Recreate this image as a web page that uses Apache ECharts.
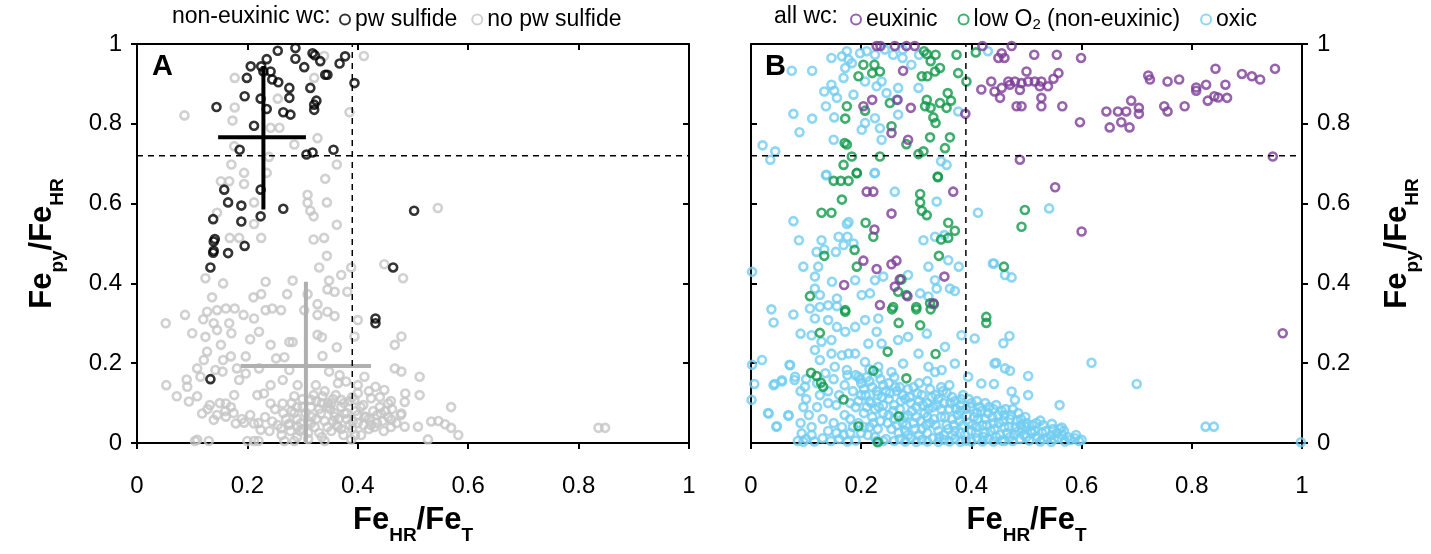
<!DOCTYPE html>
<html>
<head>
<meta charset="utf-8">
<script src="https://cdn.jsdelivr.net/npm/echarts@6/dist/echarts.min.js"></script>
<style>
  html, body { margin: 0; padding: 0; background: #fff; }
  #chart { width: 1431px; height: 554px; }
</style>
</head>
<body>
<div id="chart"></div>
<script>
// panel A: non-euxinic water column, split by porewater sulfide
const pwSulfide = [
  [0.255,0.983],[0.287,0.99],[0.287,0.963],[0.318,0.977],[0.322,0.972],[0.303,0.942],[0.332,0.957],
  [0.367,0.951],[0.377,0.969],[0.394,0.902],[0.235,0.962],[0.206,0.944],[0.225,0.944],[0.229,0.931],
  [0.242,0.931],[0.199,0.915],[0.245,0.911],[0.256,0.904],[0.276,0.890],[0.314,0.890],[0.341,0.923],
  [0.345,0.923],[0.276,0.865],[0.195,0.869],[0.224,0.863],[0.325,0.858],[0.321,0.848],[0.321,0.835],
  [0.235,0.837],[0.144,0.842],[0.265,0.829],[0.278,0.823],[0.212,0.795],[0.186,0.735],[0.307,0.723],
  [0.318,0.728],[0.356,0.735],[0.158,0.635],[0.224,0.635],[0.165,0.603],[0.189,0.595],[0.265,0.587],
  [0.138,0.561],[0.189,0.555],[0.224,0.568],[0.502,0.582],[0.141,0.511],[0.139,0.505],[0.138,0.477],
  [0.139,0.482],[0.165,0.476],[0.195,0.494],[0.133,0.440],[0.464,0.440],[0.432,0.312],[0.432,0.300],
  [0.133,0.160]
];
const noPwSulfide = [
  [0.411,0.97],[0.339,0.97],[0.177,0.915],[0.321,0.915],[0.255,0.863],[0.177,0.841],[0.086,0.821],
  [0.173,0.808],[0.385,0.829],[0.242,0.790],[0.258,0.790],[0.327,0.764],[0.285,0.748],[0.176,0.744],
  [0.239,0.717],[0.171,0.698],[0.362,0.698],[0.194,0.677],[0.235,0.677],[0.152,0.656],[0.167,0.656],
  [0.194,0.649],[0.341,0.662],[0.309,0.622],[0.309,0.602],[0.344,0.603],[0.212,0.603],[0.314,0.582],
  [0.320,0.568],[0.145,0.577],[0.212,0.549],[0.362,0.547],[0.545,0.589],[0.168,0.514],[0.185,0.514],
  [0.225,0.514],[0.320,0.510],[0.339,0.514],
  [0.344,0.469],[0.330,0.440],[0.388,0.440],[0.448,0.448],[0.482,0.413],[0.124,0.413],[0.156,0.400],
  [0.233,0.404],[0.282,0.407],[0.348,0.407],[0.370,0.421],[0.345,0.385],[0.358,0.379],[0.381,0.379],
  [0.272,0.373],[0.309,0.373],[0.211,0.365],[0.225,0.373],[0.136,0.365],[0.327,0.348],[0.145,0.333],
  [0.161,0.337],[0.177,0.337],[0.127,0.329],[0.193,0.321],[0.233,0.333],[0.245,0.337],[0.261,0.333],
  [0.303,0.333],[0.327,0.321],[0.345,0.329],[0.358,0.318],[0.087,0.321],[0.052,0.300],[0.212,0.312],
  [0.120,0.310],[0.139,0.300],[0.167,0.300],[0.400,0.308],[0.145,0.283],[0.100,0.275],[0.124,0.266],
  [0.171,0.275],[0.205,0.260],[0.221,0.279],[0.327,0.271],[0.335,0.265],[0.394,0.267],[0.479,0.267],
  [0.467,0.246],[0.242,0.246],[0.276,0.253],[0.282,0.253],[0.152,0.246],[0.362,0.240],[0.127,0.229],
  [0.197,0.217],[0.170,0.217],[0.252,0.212],[0.267,0.215],[0.336,0.218],[0.121,0.208],[0.156,0.208],
  [0.221,0.187],[0.109,0.187],[0.142,0.183],[0.155,0.179],[0.181,0.187],[0.197,0.174],[0.276,0.183],
  [0.348,0.179],[0.367,0.170],[0.467,0.187],[0.479,0.179],[0.512,0.166],[0.053,0.145],[0.090,0.159],
  [0.091,0.141],[0.115,0.166],[0.185,0.158],[0.242,0.145],[0.264,0.158],[0.291,0.145],[0.324,0.145],
  [0.364,0.150],[0.379,0.154],[0.400,0.145],[0.412,0.166],[0.432,0.141],[0.448,0.133],[0.486,0.124],
  [0.512,0.120],[0.072,0.117],[0.094,0.104],[0.109,0.117],[0.132,0.095],[0.161,0.099],[0.176,0.120],
  [0.218,0.120],[0.230,0.124],[0.242,0.099],[0.264,0.099],[0.285,0.117],[0.315,0.108],[0.336,0.117],
  [0.352,0.099],[0.370,0.108],[0.394,0.108],[0.424,0.112],[0.455,0.099],[0.485,0.103],[0.118,0.074],
  [0.139,0.058],[0.161,0.066],[0.179,0.049],[0.194,0.051],[0.212,0.049],[0.224,0.033],[0.245,0.054],
  [0.261,0.037],[0.276,0.049],[0.291,0.041],[0.315,0.049],[0.333,0.074],[0.345,0.091],[0.358,0.066],
  [0.364,0.041],[0.376,0.074],[0.391,0.054],[0.412,0.066],[0.424,0.045],[0.442,0.074],[0.461,0.058],
  [0.479,0.074],[0.485,0.041],[0.509,0.041],[0.533,0.054],[0.109,0.008],[0.130,0.005],[0.212,0.005],
  [0.267,0.005],[0.285,0.005],[0.388,0.009],[0.527,0.009],[0.836,0.038],[0.848,0.038],[0.582,0.02],
  [0.569,0.09],[0.546,0.055],[0.558,0.047],[0.569,0.038],
  [0.262,0.02],[0.27,0.06],[0.278,0.03],[0.285,0.075],[0.29,0.015],[0.297,0.05],[0.30,0.09],[0.31,0.025],
  [0.316,0.065],[0.322,0.04],[0.33,0.085],[0.335,0.015],[0.34,0.055],[0.346,0.1],[0.352,0.03],[0.358,0.075],
  [0.362,0.045],[0.37,0.09],[0.374,0.02],[0.38,0.06],[0.385,0.105],[0.39,0.035],[0.396,0.08],[0.40,0.05],
  [0.406,0.02],[0.41,0.095],[0.415,0.065],[0.42,0.035],[0.428,0.08],[0.435,0.05],[0.44,0.09],[0.447,0.03],
  [0.455,0.065],[0.462,0.085],[0.47,0.05],[0.478,0.07],[0.25,0.085],[0.255,0.045],[0.24,0.03],[0.232,0.065],
  [0.22,0.05],[0.205,0.07],[0.19,0.06],[0.175,0.075],[0.16,0.08],[0.145,0.07],[0.128,0.085],[0.15,0.1],
  [0.17,0.09],[0.34,0.13],[0.36,0.12],[0.32,0.12],[0.3,0.11],[0.28,0.1],[0.4,0.125],[0.42,0.13],
  [0.44,0.115],[0.46,0.105],[0.105,0.005],[0.20,0.005],[0.22,0.005],[0.31,0.01],[0.34,0.005],
  [0.265,0.075],[0.275,0.045],[0.29,0.06],[0.3,0.035],[0.305,0.075],[0.325,0.06],[0.33,0.025],[0.345,0.04],
  [0.35,0.085],[0.355,0.055],[0.365,0.06],[0.37,0.035],[0.38,0.075],[0.385,0.045],[0.395,0.02],[0.4,0.07],
  [0.405,0.09],[0.41,0.045],[0.42,0.06],[0.43,0.04],[0.435,0.07],[0.445,0.055],[0.45,0.08],[0.46,0.04],
  [0.325,0.105],[0.355,0.11],[0.375,0.1],[0.39,0.115],[0.315,0.09],[0.335,0.1],[0.29,0.09],[0.28,0.08],
  [0.295,0.03],[0.31,0.055]
];
// mean +/- sd crosses of panel A: [xMean, yMean, xLow, xHigh, yLow, yHigh]
const crossPw = [0.229, 0.766, 0.147, 0.306, 0.585, 0.945];
const crossNoPw = [0.306, 0.193, 0.188, 0.424, 0, 0.404];

// panel B: all water columns
const euxinic = [
  [0.228,0.995],[0.235,0.995],[0.261,0.995],[0.282,0.995],[0.297,0.995],[0.420,0.995],[0.473,0.995],
  [0.276,0.933],[0.220,0.860],[0.204,0.844],[0.266,0.860],[0.290,0.840],[0.389,0.825],[0.255,0.777],
  [0.285,0.760],[0.418,0.886],[0.436,0.906],[0.442,0.881],
  [0.455,0.977],[0.460,0.965],[0.449,0.965],[0.514,0.973],[0.555,0.973],[0.599,0.965],[0.500,0.931],
  [0.558,0.927],[0.467,0.906],[0.479,0.906],[0.491,0.902],[0.503,0.906],[0.515,0.906],[0.527,0.906],
  [0.539,0.894],[0.549,0.913],[0.455,0.890],[0.452,0.865],[0.470,0.898],[0.488,0.885],[0.524,0.894],
  [0.482,0.844],[0.491,0.844],[0.527,0.865],[0.527,0.844],[0.565,0.844],[0.597,0.804],
  [0.645,0.831],[0.666,0.831],[0.681,0.831],[0.690,0.858],[0.704,0.840],[0.704,0.825],
  [0.651,0.791],[0.672,0.804],[0.687,0.791],[0.721,0.921],[0.724,0.911],[0.756,0.906],[0.777,0.911],
  [0.750,0.844],[0.756,0.831],[0.787,0.844],[0.808,0.891],[0.808,0.883],[0.826,0.898],[0.843,0.938],
  [0.861,0.898],[0.829,0.858],[0.841,0.869],[0.848,0.866],[0.864,0.865],[0.891,0.925],[0.909,0.919],
  [0.924,0.911],[0.951,0.938],[0.947,0.718],[0.488,0.710],[0.552,0.641],[0.600,0.530],[0.965,0.275],
  [0.210,0.630],[0.222,0.630],[0.367,0.630],[0.255,0.575],[0.224,0.535],[0.204,0.457],[0.228,0.436],
  [0.255,0.448],[0.264,0.457],[0.169,0.396],[0.270,0.410],[0.261,0.392],[0.284,0.368],[0.351,0.417],
  [0.234,0.346],[0.331,0.350]
];
const lowO2 = [
  [0.314,0.982],[0.319,0.975],[0.335,0.973],[0.326,0.957],[0.373,0.973],[0.408,0.979],[0.204,0.948],
  [0.224,0.948],[0.195,0.919],[0.220,0.927],[0.234,0.931],[0.310,0.919],[0.320,0.919],[0.334,0.931],
  [0.343,0.940],[0.376,0.927],[0.391,0.906],[0.174,0.844],[0.171,0.813],[0.207,0.833],[0.252,0.852],
  [0.319,0.860],[0.316,0.844],[0.326,0.840],[0.343,0.852],[0.357,0.877],[0.363,0.858],[0.355,0.840],
  [0.331,0.816],[0.335,0.802],[0.255,0.794],[0.174,0.748],[0.170,0.752],[0.325,0.766],[0.361,0.766],
  [0.282,0.749],[0.352,0.739],[0.304,0.724],[0.313,0.731],[0.183,0.718],[0.234,0.718],[0.168,0.697],
  [0.192,0.677],[0.339,0.668],
  [0.150,0.657],[0.163,0.657],[0.177,0.657],[0.192,0.676],[0.339,0.666],[0.307,0.624],[0.307,0.603],
  [0.310,0.582],[0.319,0.571],[0.165,0.610],[0.128,0.577],[0.146,0.577],[0.208,0.552],[0.222,0.517],
  [0.358,0.552],[0.370,0.532],[0.358,0.514],[0.345,0.510],[0.188,0.484],[0.133,0.469],[0.341,0.469],
  [0.192,0.442],[0.107,0.368],[0.273,0.410],[0.267,0.379],[0.282,0.371],[0.325,0.350],[0.171,0.333],
  [0.258,0.341],[0.300,0.341],[0.497,0.584],[0.491,0.542],[0.459,0.442],
  [0.171,0.329],[0.256,0.335],[0.300,0.335],[0.326,0.335],[0.332,0.348],[0.268,0.301],[0.307,0.295],
  [0.427,0.316],[0.427,0.301],[0.125,0.276],[0.248,0.229],[0.335,0.223],[0.109,0.176],[0.119,0.168],
  [0.127,0.151],[0.131,0.141],[0.222,0.181],[0.282,0.162],[0.168,0.109],[0.268,0.067],[0.195,0.042],
  [0.230,0.002]
];
const oxic = [
  [0.074,0.933],[0.111,0.933],[0.146,0.965],[0.165,0.969],[0.174,0.982],[0.183,0.952],[0.171,0.940],
  [0.177,0.961],[0.198,0.977],[0.210,0.982],[0.225,0.973],[0.243,0.986],[0.258,0.973],[0.275,0.986],
  [0.275,0.965],[0.291,0.948],[0.305,0.973],[0.168,0.915],[0.146,0.898],[0.133,0.881],[0.151,0.883],
  [0.156,0.865],[0.136,0.844],[0.077,0.825],[0.111,0.813],[0.088,0.779],[0.021,0.746],[0.044,0.731],
  [0.035,0.710],[0.151,0.816],[0.186,0.873],[0.207,0.906],[0.228,0.894],[0.237,0.906],[0.246,0.877],
  [0.267,0.890],[0.264,0.860],[0.304,0.890],[0.225,0.814],[0.234,0.789],[0.207,0.802],[0.201,0.785],
  [0.150,0.760],[0.237,0.760],[0.267,0.823],[0.345,0.706],[0.355,0.697],[0.376,0.831],[0.137,0.672],
  [0.225,0.677],[0.430,0.982],
  [0.136,0.671],[0.224,0.676],[0.261,0.630],[0.337,0.605],[0.412,0.577],[0.077,0.556],[0.177,0.554],
  [0.174,0.549],[0.087,0.508],[0.128,0.508],[0.159,0.517],[0.175,0.517],[0.133,0.485],[0.154,0.479],
  [0.168,0.496],[0.186,0.500],[0.119,0.479],[0.313,0.508],[0.334,0.517],[0.351,0.521],[0.002,0.429],
  [0.439,0.450],[0.095,0.442],[0.122,0.442],[0.322,0.442],[0.358,0.458],[0.377,0.442],[0.116,0.417],
  [0.147,0.404],[0.189,0.408],[0.225,0.408],[0.240,0.417],[0.285,0.421],[0.334,0.408],[0.361,0.387],
  [0.370,0.381],[0.337,0.387],[0.116,0.387],[0.125,0.371],[0.156,0.362],[0.201,0.371],[0.216,0.375],
  [0.307,0.375],[0.322,0.367],[0.037,0.335],[0.041,0.302],[0.077,0.322],[0.090,0.274],[0.002,0.196],
  [0.020,0.208],[0.006,0.148],[0.001,0.108],[0.031,0.075],[0.046,0.041],[0.068,0.068],[0.070,0.196],
  [0.043,0.148],[0.056,0.154],[0.079,0.158],[0.092,0.024],[0.095,0.003],
  [0.541,0.588],[0.441,0.450],[0.461,0.421],[0.473,0.415],[0.469,0.268],[0.458,0.250],[0.445,0.201],
  [0.461,0.187],[0.470,0.181],[0.503,0.168],[0.618,0.201],[0.700,0.148],[0.441,0.148],[0.473,0.129],
  [0.479,0.108],[0.503,0.120],[0.560,0.095],[0.525,0.056],[0.546,0.048],[0.564,0.039],[0.825,0.041],
  [0.840,0.041],[0.998,0.002],[0.500,0.041],
  [0.107,0.337],[0.125,0.341],[0.140,0.345],[0.156,0.343],[0.116,0.312],[0.140,0.308],[0.156,0.291],
  [0.110,0.270],[0.128,0.254],[0.146,0.258],[0.171,0.279],[0.189,0.291],[0.207,0.308],[0.231,0.312],
  [0.228,0.279],[0.213,0.249],[0.237,0.249],[0.267,0.258],[0.285,0.266],[0.319,0.274],[0.352,0.241],
  [0.382,0.270],[0.406,0.262],[0.071,0.195],[0.056,0.157],[0.041,0.145],[0.080,0.166],[0.098,0.141],
  [0.116,0.233],[0.125,0.208],[0.146,0.224],[0.165,0.220],[0.177,0.224],[0.189,0.224],[0.152,0.191],
  [0.174,0.183],[0.195,0.166],[0.207,0.203],[0.231,0.191],[0.255,0.178],[0.276,0.199],[0.304,0.224],
  [0.322,0.191],[0.334,0.178],[0.346,0.183],[0.370,0.199],[0.394,0.166],[0.418,0.149],[0.442,0.199],
  [0.032,0.074],[0.068,0.070],[0.047,0.042],
  [0.19,0.17],[0.2,0.15],[0.21,0.165],[0.22,0.14],[0.235,0.16],[0.245,0.13],[0.2,0.12],[0.215,0.105],
  [0.23,0.12],[0.19,0.09],[0.205,0.075],[0.225,0.085],[0.24,0.095],[0.25,0.07],[0.195,0.05],[0.215,0.04],
  [0.235,0.055],[0.255,0.035],[0.2,0.025],[0.225,0.015],[0.245,0.01],
  [0.265,0.13],[0.28,0.11],[0.295,0.14],[0.31,0.12],[0.325,0.135],[0.34,0.11],[0.355,0.125],[0.37,0.105],
  [0.385,0.12],[0.4,0.1],[0.27,0.085],[0.285,0.07],[0.3,0.09],[0.315,0.075],[0.33,0.09],[0.345,0.065],
  [0.36,0.085],[0.375,0.07],[0.39,0.085],[0.405,0.065],[0.265,0.045],[0.28,0.03],[0.295,0.05],[0.31,0.035],
  [0.325,0.05],[0.34,0.03],[0.355,0.045],[0.37,0.03],[0.385,0.045],[0.4,0.03],[0.27,0.01],[0.29,0.012],
  [0.31,0.008],[0.33,0.012],[0.35,0.008],[0.37,0.01],[0.39,0.006],[0.41,0.012],
  [0.415,0.09],[0.43,0.075],[0.445,0.095],[0.46,0.07],[0.475,0.085],[0.49,0.06],[0.42,0.045],[0.435,0.03],
  [0.45,0.05],[0.465,0.025],[0.48,0.04],[0.495,0.02],[0.51,0.045],[0.52,0.015],[0.535,0.03],[0.55,0.01],
  [0.565,0.02],[0.58,0.008],[0.595,0.005],[0.43,0.01],[0.455,0.006],[0.475,0.005],[0.505,0.006],
  [0.525,0.004],[0.545,0.003],[0.57,0.004],
  [0.085,0.005],[0.1,0.01],[0.115,0.004],[0.13,0.012],[0.145,0.005],[0.16,0.01],[0.175,0.004],[0.19,0.006],
  [0.11,0.04],[0.13,0.06],[0.15,0.05],[0.17,0.07],[0.12,0.09],[0.14,0.1],[0.16,0.12],[0.18,0.1],
  [0.1,0.11],[0.09,0.13],[0.12,0.15],[0.15,0.16],[0.17,0.145],
  [0.205,0.135],[0.215,0.155],[0.228,0.13],[0.24,0.145],[0.25,0.11],[0.26,0.095],[0.275,0.12],[0.29,0.1],
  [0.305,0.105],[0.32,0.1],[0.335,0.12],[0.35,0.1],[0.365,0.115],[0.38,0.095],[0.395,0.11],[0.41,0.105],
  [0.425,0.1],[0.44,0.085],[0.455,0.08],[0.47,0.06],[0.485,0.075],[0.5,0.05],[0.515,0.03],[0.53,0.045],
  [0.545,0.02],[0.56,0.035],[0.575,0.015],[0.59,0.02],[0.6,0.008],
  [0.195,0.105],[0.21,0.09],[0.22,0.065],[0.23,0.035],[0.24,0.075],[0.26,0.06],[0.275,0.05],[0.285,0.02],
  [0.3,0.065],[0.305,0.02],[0.32,0.065],[0.32,0.025],[0.335,0.045],[0.345,0.085],[0.35,0.02],[0.365,0.06],
  [0.365,0.02],[0.38,0.025],[0.38,0.08],[0.395,0.05],[0.41,0.04],[0.41,0.075],[0.425,0.06],[0.425,0.025],
  [0.44,0.05],[0.445,0.015],[0.46,0.04],[0.47,0.015],[0.485,0.03],[0.49,0.045],[0.5,0.015],[0.51,0.025],
  [0.53,0.01],[0.555,0.025],[0.27,0.14],[0.285,0.135],[0.305,0.15],[0.32,0.155],[0.345,0.14],[0.36,0.145],
  [0.25,0.15],[0.26,0.165],[0.23,0.175],[0.215,0.185],[0.24,0.005],[0.26,0.005],[0.28,0.004],[0.3,0.003],
  [0.32,0.004],[0.34,0.003],[0.36,0.004],[0.38,0.003],[0.4,0.004],[0.42,0.004],[0.44,0.004],[0.46,0.005],
  [0.105,0.07],[0.125,0.12],[0.14,0.13],[0.155,0.095],[0.165,0.04],[0.18,0.06],[0.185,0.13],[0.175,0.17],
  [0.135,0.175],[0.1,0.16],[0.095,0.09],[0.09,0.05],[0.11,0.02],[0.14,0.03],[0.155,0.025],[0.18,0.025],
  [0.198,0.16],[0.208,0.12],[0.218,0.1],[0.222,0.05],[0.232,0.09],[0.238,0.115],[0.248,0.05],[0.252,0.125],
  [0.258,0.08],[0.262,0.14],[0.268,0.025],[0.272,0.105],[0.278,0.065],[0.282,0.045],[0.288,0.115],[0.292,0.08],
  [0.298,0.035],[0.302,0.125],[0.308,0.055],[0.312,0.095],[0.318,0.045],[0.322,0.085],[0.328,0.115],[0.332,0.06],
  [0.338,0.095],[0.342,0.015],[0.348,0.13],[0.352,0.065],[0.358,0.035],[0.362,0.1],[0.368,0.045],[0.372,0.085],
  [0.378,0.055],[0.382,0.11],[0.388,0.02],[0.392,0.07],[0.398,0.09],[0.402,0.045],[0.408,0.025],[0.412,0.06],
  [0.418,0.08],[0.422,0.015],[0.428,0.045],[0.432,0.09],[0.438,0.065],[0.442,0.035],[0.448,0.07],[0.452,0.02],
  [0.458,0.055],[0.462,0.085],[0.468,0.04],[0.472,0.07],[0.478,0.02],[0.482,0.055],[0.488,0.01],[0.492,0.035],
  [0.498,0.065],[0.508,0.03],[0.518,0.05],[0.528,0.025],[0.538,0.012],[0.548,0.035],[0.558,0.012],[0.568,0.03],
  [0.588,0.012],[0.212,0.02],[0.228,0.005],[0.205,0.04],[0.185,0.04],[0.168,0.02]
];

// dashed thresholds: FeHR/FeT and Fepy/FeHR
const feHrThreshold = 0.39;
const fePyThreshold = 0.72;
const xTicks = [0, 0.2, 0.4, 0.6, 0.8, 1];

const FONT = '"Liberation Sans", Helvetica, Arial, sans-serif';
const C = { black: '#000000', grey: '#c6c6c6', purple: '#7d3c98', green: '#0f9a4a', cyan: '#72cdf1' };

const chart = echarts.init(document.getElementById('chart'));

const nameRich = {
  b: { fontFamily: FONT, fontSize: 31, fontWeight: 'bold', color: '#000', padding: [0, 0, 9, 0], verticalAlign: 'bottom' },
  s: { fontFamily: FONT, fontSize: 19, fontWeight: 'bold', color: '#000', verticalAlign: 'bottom' }
};

const xAxisFor = (grid, bottom) => ({
  gridIndex: grid, type: 'value', min: 0, max: 1, interval: 0.2,
  position: bottom ? 'bottom' : 'top',
  axisLine: { onZero: false, lineStyle: { color: '#000', width: 2 } },
  axisTick: { inside: !bottom, length: 6, lineStyle: { width: 2 } },
  axisLabel: {
    show: bottom, margin: 31, fontFamily: FONT, fontSize: 24, color: '#000',
    formatter: (v) => xTicks.indexOf(v) >= 0 ? String(v) : ''
  },
  splitLine: { show: false },
  name: bottom ? '{b|Fe}{s|HR}{b|/Fe}{s|T}' : '',
  nameLocation: 'middle', nameGap: 62,
  nameTextStyle: { rich: nameRich }
});

const yAxisFor = (grid, left, labels) => ({
  gridIndex: grid, type: 'value', min: 0, max: 1, interval: 0.2,
  position: left ? 'left' : 'right',
  axisLine: { onZero: false, lineStyle: { color: '#000', width: 2 } },
  axisTick: { inside: !labels, length: 6, lineStyle: { width: 2 } },
  axisLabel: { show: labels, margin: 15, fontFamily: FONT, fontSize: 24, color: '#000' },
  splitLine: { show: false },
  name: labels ? '{b|Fe}{s|py}{b|/Fe}{s|HR}' : '',
  nameLocation: 'middle', nameGap: left ? 70 : 80, nameRotate: 90,
  nameTextStyle: { rich: nameRich }
});

const scatter = (name, data, color, xi) => ({
  name, type: 'scatter', xAxisIndex: xi, yAxisIndex: xi, data,
  symbol: 'circle', symbolSize: 8, clip: false,
  itemStyle: { color: 'rgba(0,0,0,0)', borderColor: color, borderWidth: 2.6 },
  emphasis: { disabled: true }
});

const segment = (pts, color, width, dashed, xi) => ({
  type: 'line', xAxisIndex: xi, yAxisIndex: xi, data: pts, symbol: 'none',
  lineStyle: { color, width, type: dashed ? [6, 5] : 'solid' },
  silent: true, z: 3, emphasis: { disabled: true }
});

const crossSegments = (c, color, xi) => [
  segment([[c[2], c[1]], [c[3], c[1]]], color, 4, false, xi),
  segment([[c[0], c[4]], [c[0], c[5]]], color, 4, false, xi)
];

const legendItem = (name, color) => ({
  name, icon: 'circle',
  itemStyle: { color: 'rgba(0,0,0,0)', borderColor: color, borderWidth: 2 }
});

const legendText = { fontFamily: FONT, fontSize: 23, color: '#000',
  rich: { a: { fontFamily: FONT, fontSize: 23, color: '#000' },
          s: { fontFamily: FONT, fontSize: 15, color: '#000', verticalAlign: 'bottom', padding: [11, 0, 0, 0] } } };

chart.setOption({
  animation: false,
  backgroundColor: '#fff',
  grid: [
    { left: 137, width: 552, top: 44, height: 399 },
    { left: 751, width: 551, top: 44, height: 399 }
  ],
  xAxis: [xAxisFor(0, true), xAxisFor(0, false), xAxisFor(1, true), xAxisFor(1, false)],
  yAxis: [
    yAxisFor(0, true, true), yAxisFor(0, false, false),
    yAxisFor(1, true, false), yAxisFor(1, false, true)
  ].map((a, i) => Object.assign(a, { gridIndex: i < 2 ? 0 : 1 })),
  legend: [
    {
      left: 339, top: 8, itemWidth: 10, itemHeight: 10, itemGap: 14, padding: 0,
      data: [legendItem('pw sulfide', C.black), legendItem('no pw sulfide', C.grey)],
      textStyle: legendText, selectedMode: false
    },
    {
      left: 850, top: 8, itemWidth: 10, itemHeight: 10, itemGap: 20, padding: 0,
      data: [legendItem('euxinic', C.purple), legendItem('low O2 (non-euxinic)', C.green), legendItem('oxic', C.cyan)],
      formatter: (n) => n === 'low O2 (non-euxinic)' ? '{a|low O}{s|2}{a| (non-euxinic)}' : n,
      textStyle: legendText, selectedMode: false
    }
  ],
  graphic: [
    { type: 'text', left: 172, top: 5, style: { text: 'non-euxinic wc:', font: '23px ' + FONT, fill: '#000' } },
    { type: 'text', left: 774, top: 5, style: { text: 'all wc:', font: '23px ' + FONT, fill: '#000' } },
    { type: 'text', left: 152, top: 52, style: { text: 'A', font: 'bold 29px ' + FONT, fill: '#000' } },
    { type: 'text', left: 765, top: 52, style: { text: 'B', font: 'bold 29px ' + FONT, fill: '#000' } }
  ],
  series: [
    scatter('no pw sulfide', noPwSulfide, C.grey, 0),
    ...crossSegments(crossNoPw, '#b0b0b0', 0),
    scatter('pw sulfide', pwSulfide, C.black, 0),
    ...crossSegments(crossPw, '#000', 0),
    segment([[feHrThreshold, 0], [feHrThreshold, 1]], '#000', 1.5, true, 0),
    segment([[0, fePyThreshold], [1, fePyThreshold]], '#000', 1.5, true, 0),
    scatter('oxic', oxic, C.cyan, 2),
    scatter('low O2 (non-euxinic)', lowO2, C.green, 2),
    scatter('euxinic', euxinic, C.purple, 2),
    segment([[feHrThreshold, 0], [feHrThreshold, 1]], '#000', 1.5, true, 2),
    segment([[0, fePyThreshold], [1, fePyThreshold]], '#000', 1.5, true, 2)
  ]
});
</script>
</body>
</html>
